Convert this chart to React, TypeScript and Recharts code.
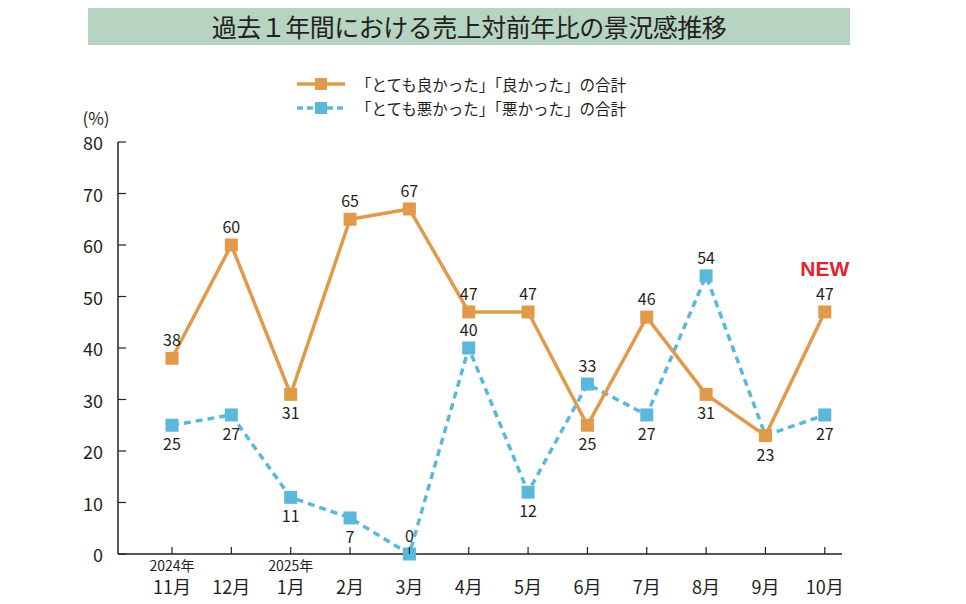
import { LabelList, Legend, Line, LineChart, XAxis, YAxis } from "recharts";

const months = ["11月", "12月", "1月", "2月", "3月", "4月", "5月", "6月", "7月", "8月", "9月", "10月"];
const years = ["2024年", "", "2025年", "", "", "", "", "", "", "", "", ""];
const goodValues = [38, 60, 31, 65, 67, 47, 47, 25, 46, 31, 23, 47];
const badValues = [25, 27, 11, 7, 0, 40, 12, 33, 27, 54, 23, 27];
// where each value label sits relative to its marker
const goodLabelSide = ["top", "top", "bottom", "top", "top", "top", "top", "bottom", "top", "bottom", "bottom", "top"];
const badLabelSide = ["bottom", "bottom", "bottom", "bottom", "top", "top", "bottom", "top", "bottom", "top", "none", "bottom"];
const yTicks = [0, 10, 20, 30, 40, 50, 60, 70, 80];
const seriesNames = ["「とても良かった」「良かった」の合計", "「とても悪かった」「悪かった」の合計"];
const seriesColors = ["#e19a4a", "#5cb8db"];
const title = "過去１年間における売上対前年比の景況感推移";

const FONT = "'Noto Sans CJK JP', 'Noto Sans', sans-serif";
const INK = "#231f20";

const data = months.map((m, i) => ({ idx: i, month: m, good: goodValues[i], bad: badValues[i] }));

const XTick = (props: any) => {
  const { x, y, payload } = props;
  const i = payload.value;
  return (
    <g>
      <line x1={x} x2={x} y1={y} y2={y - 7} stroke={INK} strokeWidth={1.2} />
      {years[i] ? (
        <text x={x} y={y + 11} textAnchor="middle" dominantBaseline="central" fontSize={14} fill={INK} fontFamily={FONT}>
          {years[i]}
        </text>
      ) : null}
      <text x={x} y={y + 32} textAnchor="middle" dominantBaseline="central" fontSize={18} fill={INK} fontFamily={FONT}>
        {months[i]}
      </text>
    </g>
  );
};

const YTick = (props: any) => {
  const { x, y, payload } = props;
  return (
    <g>
      <line x1={x + 15} x2={x + 23} y1={y} y2={y} stroke={INK} strokeWidth={1.2} />
      <text x={x} y={y} textAnchor="end" dominantBaseline="central" fontSize={18} fill={INK} fontFamily={FONT}>
        {payload.value}
      </text>
      {payload.value === 80 ? (
        <text x={x - 7} y={y - 25} textAnchor="middle" dominantBaseline="central" fontSize={17} fill={INK} fontFamily={FONT}>
          (%)
        </text>
      ) : null}
    </g>
  );
};

const squareDot = (color: string) => (props: any) => {
  const { cx, cy, index } = props;
  return <rect key={`d-${index}`} x={cx - 6.5} y={cy - 6.5} width={13} height={13} fill={color} />;
};

const makeLabel = (sides: string[], withNew: boolean) => (props: any) => {
  const { x, y, value, index } = props;
  const side = sides[index];
  if (side === "none") return null;
  const ty = side === "top" ? y - 19 : y + 18;
  return (
    <g key={`l-${index}`}>
      <text x={x} y={ty} textAnchor="middle" dominantBaseline="central" fontSize={16} fill={INK} fontFamily={FONT}>
        {value}
      </text>
      {withNew && index === months.length - 1 ? (
        <text x={x} y={y - 43} textAnchor="middle" dominantBaseline="central" fontSize={21} fontWeight={700} fill="#e3232f" fontFamily="'Liberation Sans', Arial, sans-serif">
          NEW
        </text>
      ) : null}
    </g>
  );
};

const renderLegend = () => (
  <div style={{ fontFamily: FONT, color: INK }}>
    {seriesNames.map((name, i) => (
      <div key={name} style={{ display: "flex", alignItems: "center", height: 24 }}>
        <svg width={48} height={14}>
          <line x1={0} x2={48} y1={7} y2={7} stroke={seriesColors[i]} strokeWidth={3.5} strokeDasharray={i === 1 ? "6 4" : undefined} />
          <rect x={18} y={1} width={12} height={12} fill={seriesColors[i]} />
        </svg>
        <span style={{ marginLeft: 11, fontSize: 15.5, whiteSpace: "nowrap" }}>{name}</span>
      </div>
    ))}
  </div>
);

export default function App() {
  return (
    <div style={{ position: "relative", width: 950, height: 596, fontFamily: FONT }}>
      <div
        style={{
          position: "absolute",
          left: 80,
          top: -1,
          width: 762,
          height: 38,
          background: "#b6d4c1",
          display: "flex",
          alignItems: "center",
          justifyContent: "center",
          fontSize: 25,
          color: INK,
          letterSpacing: -0.5,
        }}
      >
        {title}
      </div>
      <LineChart width={950} height={596} data={data} margin={{ top: 134, right: 116, bottom: 8, left: 50 }}>
        <XAxis
          dataKey="idx"
          type="number"
          domain={[-0.91, 11.29]}
          ticks={months.map((_, i) => i)}
          interval={0}
          tickSize={0}
          tickMargin={0}
          height={42}
          tick={<XTick />}
          axisLine={{ stroke: INK, strokeWidth: 1.5 }}
          tickLine={false}
        />
        <YAxis
          domain={[0, 80]}
          ticks={yTicks}
          interval={0}
          width={60}
          tickSize={0}
          tickMargin={15}
          tick={<YTick />}
          axisLine={{ stroke: INK, strokeWidth: 1.5 }}
          tickLine={false}
        />
        <Legend
          layout="vertical"
          align="center"
          verticalAlign="middle"
          content={renderLegend}
          wrapperStyle={{ top: 64, left: 289, width: 400, height: 50 }}
        />
        <Line
          dataKey="bad"
          name={seriesNames[1]}
          stroke={seriesColors[1]}
          strokeWidth={3.5}
          strokeDasharray="7 5"
          dot={squareDot(seriesColors[1])}
          activeDot={false}
          isAnimationActive={false}
        >
          <LabelList dataKey="bad" content={makeLabel(badLabelSide, false)} />
        </Line>
        <Line
          dataKey="good"
          name={seriesNames[0]}
          stroke={seriesColors[0]}
          strokeWidth={3.5}
          dot={squareDot(seriesColors[0])}
          activeDot={false}
          isAnimationActive={false}
        >
          <LabelList dataKey="good" content={makeLabel(goodLabelSide, true)} />
        </Line>
      </LineChart>
    </div>
  );
}
